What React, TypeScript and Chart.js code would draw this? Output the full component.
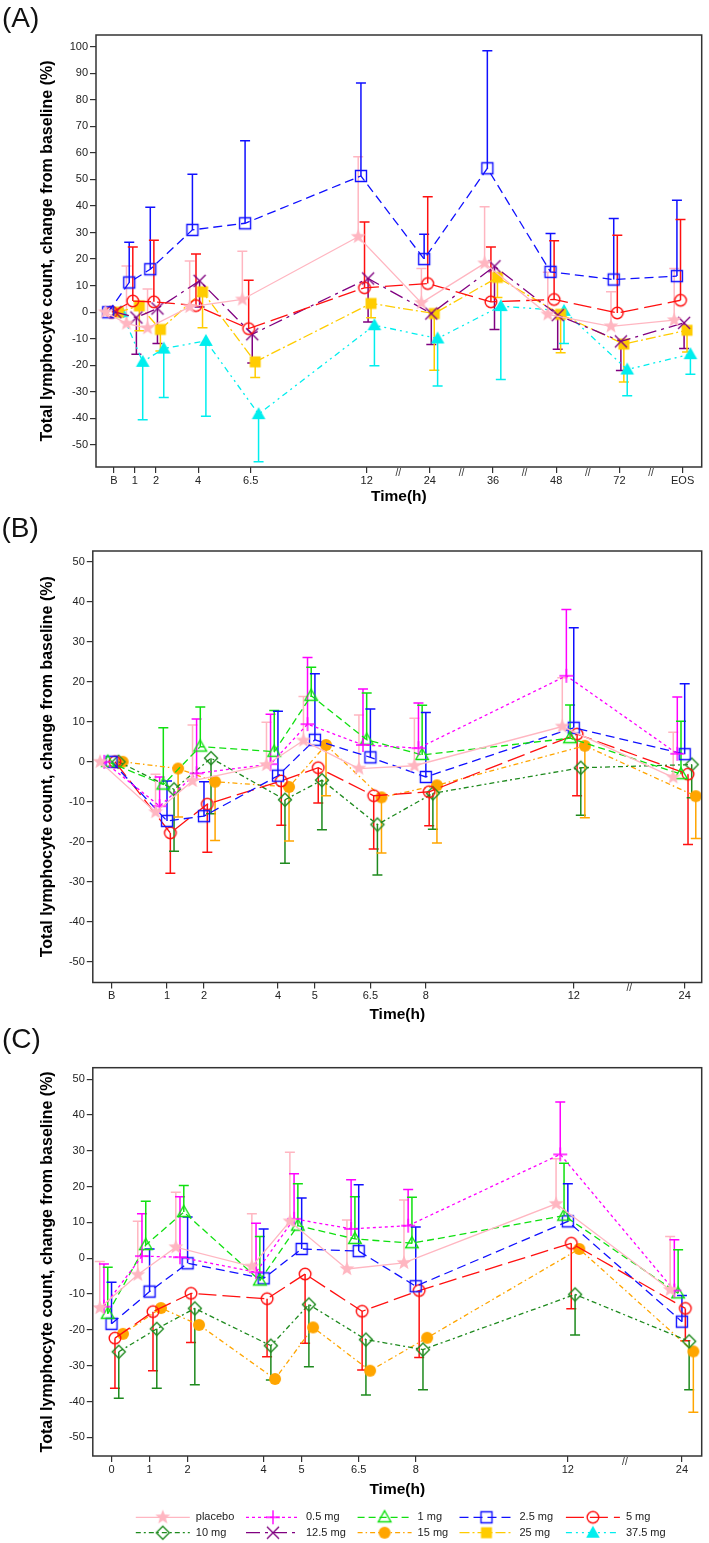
import React, { useEffect, useRef } from 'react';
import { Chart, registerables } from 'chart.js';

Chart.register(...registerables);

const FONT = "'Liberation Sans', Arial, Helvetica, sans-serif";

// ---------------- Panel A ----------------
const A_TIME_LABELS = ['B', '1', '2', '4', '6.5', '12', '24', '36', '48', '72', 'EOS'];
const A_TIME_POS = [0, 1, 2, 4, 6.5, 12, 15, 18, 21, 24, 27];
const A_BREAKS = [13.5, 16.5, 19.5, 22.5, 25.5];
const A_Y_TICKS = [-50, -40, -30, -20, -10, 0, 10, 20, 30, 40, 50, 60, 70, 80, 90, 100];

const A_PLACEBO = [0, -4.3, -6, 2, 4.8, 28.4, 3.5, 18.4, -0.8, -5.3, -3];
const A_PLACEBO_ERR = [null, 17.4, 8.7, 19.3, 23, 58.5, 16.5, 39.7, 15, 7.7, 16.5];
const A_2_5 = [0, 11.2, 16.2, 31, 33.5, 51.3, 20, 54.2, 15.2, 12.3, 13.6];
const A_2_5_ERR = [null, 26.3, 39.5, 52, 64.6, 86.3, 29.4, 98.5, 29.6, 35.3, 42.2];
const A_5 = [0, 4.2, 3.9, 2.5, -6.2, 9.2, 10.8, 3.9, 4.8, -0.3, 4.5];
const A_5_ERR = [null, 24.6, 27.1, 21.9, 12, 34, 43.5, 24.6, 26.9, 29, 34.9];
const A_12_5 = [0, -2, 1.4, 11.8, -8.3, 12.7, -0.5, 17.3, -1.1, -11, -4];
const A_12_5_ERR = [null, -15.8, -11.8, 2, -19.1, -3.7, -12.2, -6.5, -14, -22, -13.7];
const A_25 = [0, 2.4, -6.5, 7.7, -18.7, 3.3, -0.5, 13.1, -0.8, -12, -6.8];
const A_25_ERR = [null, -7, -14.6, -5.9, -24.6, -2.1, -21.9, 5.5, -15.3, -26.3, -15];
const A_37_5 = [0, -18.7, -13.7, -10.8, -38.4, -4.9, -9.9, 2.3, 0.5, -21.6, -15.8];
const A_37_5_ERR = [null, -40.5, -32.1, -39.2, -56.3, -20.2, -27.8, -25.3, -11.8, -31.5, -23.4];

// ---------------- Panel B ----------------
const B_TIME_LABELS = ['B', '1', '2', '4', '5', '6.5', '8', '12', '24'];
const B_TIME_POS = [-0.5, 1, 2, 4, 5, 6.5, 8, 12, 15];
const B_BREAKS = [13.5];
const BC_Y_TICKS = [-50, -40, -30, -20, -10, 0, 10, 20, 30, 40, 50];

const B_PLACEBO = [0, -12.6, -4.8, -0.8, 5.3, -1.7, -1.0, 8.8, -3.9];
const B_PLACEBO_ERR = [null, -3.1, 9.2, 9.9, 16.3, 11.7, 10.9, 21, 7.4];
const B_0_5 = [0, -11.1, -2.9, -0.6, 9.4, 4.2, 3.4, 21.5, 2.0];
const B_0_5_ERR = [null, -3.8, 10.7, 11.9, 26.1, 18.2, 14.7, 38.1, 16.2];
const B_1 = [0, -5.7, 3.8, 2.5, 16.5, 5.5, 1.7, 5.9, -3.1];
const B_1_ERR = [null, 8.5, 13.7, 12.8, 23.6, 17.2, 14.1, 14.2, 10.1];
const B_2_5 = [0, -14.8, -13.6, -3.5, 5.5, 1.1, -3.8, 8.5, 1.9];
const B_2_5_ERR = [null, -4.8, -5.0, 12.6, 22, 13.2, 12.3, 33.5, 19.5];
const B_5 = [0, -17.8, -10.6, -4.8, -1.5, -8.5, -7.5, 6.9, -3.1];
const B_5_ERR = [null, -27.9, -22.6, -15.9, -10.3, -21.8, -16, -8.5, -20.7];
const B_10 = [0, -6.9, 0.9, -9.5, -4.6, -15.7, -7.9, -1.5, -0.7];
const B_10_ERR = [null, -22.4, -13, -25.4, -17, -28.3, -16.9, -13.4, -9];
const B_15 = [0, -1.7, -5.0, -6.3, 4.2, -8.9, -5.9, 4.0, -8.6];
const B_15_ERR = [null, -13.8, -19.7, -19.8, -8.5, -22.8, -20.3, -14.0, -19.2];

// ---------------- Panel C ----------------
const C_TIME_LABELS = ['0', '1', '2', '4', '5', '6.5', '8', '12', '24'];
const C_TIME_POS = [0, 1, 2, 4, 5, 6.5, 8, 12, 15];
const C_BREAKS = [13.5];

const C_PLACEBO = [-13.9, -4.6, 3.1, -2.3, 10.3, -3.0, -1.3, 15.2, -8.8];
const C_PLACEBO_ERR = [-0.9, 10.3, 18.4, 12.4, 29.6, 10.7, 16.3, 27.8, 6.1];
const C_0_5 = [-13.5, 0.6, 0.3, -3.9, 11, 8.2, 9.1, 29.0, -9];
const C_0_5_ERR = [-1.6, 12.4, 17.2, 9.8, 23.6, 21.9, 19.2, 43.6, 5.2];
const C_1 = [-15.5, 3.7, 12.9, -6.2, 9.1, 5.4, 4.2, 11.9, -9.8];
const C_1_ERR = [-2.5, 15.9, 20.3, 6.1, 20.8, 17.2, 17, 26.5, 2.4];
const C_2_5 = [-18.3, -9.3, -1.4, -5.6, 2.6, 2.0, -7.8, 10.3, -17.7];
const C_2_5_ERR = [-6.7, 2.6, 11.5, 8.2, 16.8, 20.5, 8.7, 20.8, -10.4];
const C_5 = [-22.3, -14.9, -9.8, -11.3, -4.4, -14.8, -9.0, 4.2, -14.0];
const C_5_ERR = [-36.3, -31.4, -23.5, -27.5, -23.7, -31.2, -27.7, -14.1, -23];
const C_10 = [-26.1, -19.7, -14.0, -24.4, -12.9, -22.7, -25.5, -10.1, -23.2];
const C_10_ERR = [-39.1, -36.3, -35.3, -34, -30.3, -38.2, -36.7, -21.4, -36.7];
const C_15 = [-21.1, -13.9, -18.6, -33.7, -19.3, -31.4, -22.2, 2.6, -26.0];
const C_15_ERR = [null, null, null, null, null, null, null, null, -43];

// ---------------- Styles ----------------
const SERIES_STYLE: Record<string, { color: string; dash: number[]; marker: string }> = {
  placebo: { color: '#ffb6c1', dash: [], marker: 'star' },
  '0.5 mg': { color: '#ff00ff', dash: [3, 3], marker: 'plus' },
  '1 mg': { color: '#10e010', dash: [7, 4], marker: 'triOpen' },
  '2.5 mg': { color: '#1010ff', dash: [9, 5], marker: 'sqOpen' },
  '5 mg': { color: '#ff1010', dash: [18, 6], marker: 'circOpen' },
  '10 mg': { color: '#1e8a1e', dash: [5, 3, 2, 3], marker: 'diamond' },
  '12.5 mg': { color: '#800080', dash: [14, 5, 3, 5], marker: 'x' },
  '15 mg': { color: '#ffa500', dash: [5, 3, 1.5, 3], marker: 'circFill' },
  '25 mg': { color: '#ffcc00', dash: [10, 3, 2, 3], marker: 'sqFill' },
  '37.5 mg': { color: '#00eeee', dash: [6, 4, 2, 4, 2, 4], marker: 'triFill' },
};

const A_OFFSETS: Record<string, number> = {
  placebo: -0.4, '2.5 mg': -0.27, '5 mg': -0.1, '12.5 mg': 0.07, '25 mg': 0.21, '37.5 mg': 0.37,
};
const BC_OFFSETS: Record<string, number> = {
  placebo: -0.31, '0.5 mg': -0.2, '1 mg': -0.1, '2.5 mg': 0, '5 mg': 0.09, '10 mg': 0.19, '15 mg': 0.3,
};

const LEGEND_ROWS = [
  ['placebo', '0.5 mg', '1 mg', '2.5 mg', '5 mg'],
  ['10 mg', '12.5 mg', '15 mg', '25 mg', '37.5 mg'],
];
const LEGEND_COL_X = [135.8, 246, 357.6, 459.5, 565.9];

type Series = { name: string; values: number[]; err: (number | null)[] };

function makeMarker(kind: string, color: string): HTMLCanvasElement {
  const c = document.createElement('canvas');
  c.width = 20;
  c.height = 20;
  const g = c.getContext('2d')!;
  g.translate(10, 10);
  g.strokeStyle = color;
  g.fillStyle = color;
  g.lineWidth = 1.4;
  g.beginPath();
  switch (kind) {
    case 'star': {
      for (let k = 0; k < 10; k++) {
        const r = k % 2 === 0 ? 7.8 : 3.3;
        const a = -Math.PI / 2 + (k * Math.PI) / 5;
        const px = r * Math.cos(a);
        const py = r * Math.sin(a);
        if (k === 0) g.moveTo(px, py);
        else g.lineTo(px, py);
      }
      g.closePath();
      g.fill();
      break;
    }
    case 'plus':
      g.moveTo(-7, 0); g.lineTo(7, 0); g.moveTo(0, -7); g.lineTo(0, 7); g.stroke();
      break;
    case 'x':
      g.moveTo(-6, -6); g.lineTo(6, 6); g.moveTo(6, -6); g.lineTo(-6, 6); g.stroke();
      break;
    case 'triOpen':
      g.moveTo(0, -6.5); g.lineTo(6.3, 4.5); g.lineTo(-6.3, 4.5); g.closePath(); g.stroke();
      break;
    case 'triFill':
      g.moveTo(0, -7); g.lineTo(6.8, 5); g.lineTo(-6.8, 5); g.closePath(); g.fill();
      break;
    case 'sqOpen':
      g.rect(-5.5, -5.5, 11, 11); g.stroke();
      break;
    case 'sqFill':
      g.rect(-5.5, -5.5, 11, 11); g.fill();
      break;
    case 'circOpen':
      g.arc(0, 0, 5.8, 0, Math.PI * 2); g.stroke();
      break;
    case 'circFill':
      g.arc(0, 0, 6, 0, Math.PI * 2); g.fill();
      break;
    case 'diamond':
      g.moveTo(0, -6.5); g.lineTo(6.5, 0); g.lineTo(0, 6.5); g.lineTo(-6.5, 0); g.closePath(); g.stroke();
      break;
  }
  return c;
}

type PanelSpec = {
  key: string;
  tag: string;
  tagX: number;
  tagBaseline: number;
  labels: string[];
  pos: number[];
  breaks: number[];
  series: Series[];
  offsets: Record<string, number>;
  xMin: number;
  xMax: number;
  yMin: number;
  yMax: number;
  yTicks: number[];
  yWidth: number;
  xHeight: number;
  padTop: number;
  padBottom: number;
  titlePadBottom: number;
  legend: boolean;
};

function makeConfig(p: PanelSpec, markers: Record<string, HTMLCanvasElement>): any {
  const datasets = p.series.map((s) => {
    const st = SERIES_STYLE[s.name];
    return {
      label: s.name,
      data: s.values.map((v, i) => ({ x: p.pos[i] + p.offsets[s.name], y: v })),
      errEnd: s.err,
      borderColor: st.color,
      backgroundColor: st.color,
      borderWidth: 1.3,
      borderDash: st.dash,
      pointStyle: markers[s.name],
      pointRadius: 6,
      pointHoverRadius: 6,
      tension: 0,
      fill: false,
    };
  });

  const extras = {
    id: 'extras' + p.key,
    beforeDatasetsDraw(chart: any) {
      const { ctx, scales } = chart;
      const x = scales.x;
      const y = scales.y;
      ctx.save();
      chart.data.datasets.forEach((ds: any) => {
        const err = ds.errEnd;
        if (!err) return;
        ctx.strokeStyle = ds.borderColor;
        ctx.lineWidth = 1.5;
        ctx.setLineDash([]);
        ds.data.forEach((pt: any, j: number) => {
          const e = err[j];
          if (e === null || e === undefined) return;
          const px = x.getPixelForValue(pt.x);
          const py = y.getPixelForValue(pt.y);
          const pe = y.getPixelForValue(e);
          ctx.beginPath();
          ctx.moveTo(px, py);
          ctx.lineTo(px, pe);
          ctx.moveTo(px - 5, pe);
          ctx.lineTo(px + 5, pe);
          ctx.stroke();
        });
      });
      ctx.restore();
    },
    afterDraw(chart: any) {
      const { ctx, chartArea: ca, scales } = chart;
      const x = scales.x;
      ctx.save();
      ctx.setLineDash([]);
      ctx.strokeStyle = '#333';
      ctx.lineWidth = 1.5;
      ctx.strokeRect(ca.left, ca.top, ca.right - ca.left, ca.bottom - ca.top);

      ctx.fillStyle = '#333';
      ctx.font = `10px ${FONT}`;
      ctx.textAlign = 'center';
      ctx.textBaseline = 'middle';
      p.breaks.forEach((b) => ctx.fillText('//', x.getPixelForValue(b), ca.bottom + 6));

      ctx.fillStyle = '#111';
      ctx.font = `28px ${FONT}`;
      ctx.textAlign = 'left';
      ctx.textBaseline = 'alphabetic';
      ctx.fillText(p.tag, p.tagX, p.tagBaseline);

      if (p.legend) {
        const rowY = [chart.height - 25.7, chart.height - 10.3];
        LEGEND_ROWS.forEach((row, r) => {
          row.forEach((name, cI) => {
            const st = SERIES_STYLE[name];
            const x0 = LEGEND_COL_X[cI];
            const yy = rowY[r];
            ctx.strokeStyle = st.color;
            ctx.lineWidth = 1.3;
            ctx.setLineDash(st.dash);
            ctx.beginPath();
            ctx.moveTo(x0, yy);
            ctx.lineTo(x0 + 54, yy);
            ctx.stroke();
            ctx.setLineDash([]);
            const m = markers[name];
            ctx.drawImage(m, x0 + 27 - m.width / 2, yy - m.height / 2);
            ctx.fillStyle = '#222';
            ctx.font = `11px ${FONT}`;
            ctx.textAlign = 'left';
            ctx.textBaseline = 'middle';
            ctx.fillText(name, x0 + 60, yy);
          });
        });
      }
      ctx.restore();
    },
  };

  return {
    type: 'line',
    data: { datasets },
    options: {
      responsive: false,
      maintainAspectRatio: false,
      animation: false,
      devicePixelRatio: 1,
      events: [],
      layout: { padding: { left: 0, right: 2, top: p.padTop, bottom: p.padBottom } },
      plugins: { legend: { display: false }, tooltip: { enabled: false }, title: { display: false } },
      scales: {
        x: {
          type: 'linear',
          min: p.xMin,
          max: p.xMax,
          afterBuildTicks: (s: any) => {
            s.ticks = p.pos.map((v) => ({ value: v }));
          },
          afterFit: (s: any) => {
            s.height = p.xHeight;
          },
          ticks: {
            autoSkip: false,
            maxRotation: 0,
            minRotation: 0,
            padding: 1,
            color: '#222',
            font: { family: FONT, size: 11 },
            callback: (_v: any, i: number) => p.labels[i],
          },
          grid: { drawOnChartArea: false, drawTicks: true, tickLength: 6, color: '#333', lineWidth: 1.2 },
          border: { display: false },
          title: {
            display: true,
            text: 'Time(h)',
            color: '#000',
            font: { family: FONT, size: 15.5, weight: 'bold' },
            padding: { top: 0, bottom: p.titlePadBottom },
          },
        },
        y: {
          type: 'linear',
          min: p.yMin,
          max: p.yMax,
          afterBuildTicks: (s: any) => {
            s.ticks = p.yTicks.map((v) => ({ value: v }));
          },
          afterFit: (s: any) => {
            s.width = p.yWidth;
          },
          ticks: {
            padding: 2,
            color: '#222',
            font: { family: FONT, size: 11 },
            callback: (v: any) => String(v),
          },
          grid: { drawOnChartArea: false, drawTicks: true, tickLength: 6, color: '#333', lineWidth: 1.2 },
          border: { display: false },
          title: {
            display: true,
            text: 'Total lymphocyte count, change from baseline (%)',
            color: '#000',
            font: { family: FONT, size: 16, weight: 'bold' },
            padding: { top: 38.4, bottom: 0 },
          },
        },
      },
    },
    plugins: [extras],
  };
}

const PANEL_A: PanelSpec = {
  key: 'A', tag: '(A)', tagX: 2, tagBaseline: 26.7,
  labels: A_TIME_LABELS, pos: A_TIME_POS, breaks: A_BREAKS,
  series: [
    { name: 'placebo', values: A_PLACEBO, err: A_PLACEBO_ERR },
    { name: '2.5 mg', values: A_2_5, err: A_2_5_ERR },
    { name: '5 mg', values: A_5, err: A_5_ERR },
    { name: '12.5 mg', values: A_12_5, err: A_12_5_ERR },
    { name: '25 mg', values: A_25, err: A_25_ERR },
    { name: '37.5 mg', values: A_37_5, err: A_37_5_ERR },
  ],
  offsets: A_OFFSETS,
  xMin: -0.847, xMax: 27.906, yMin: -58.3, yMax: 104.4, yTicks: A_Y_TICKS,
  yWidth: 96, xHeight: 43, padTop: 35, padBottom: 0, titlePadBottom: 4.3, legend: false,
};

const PANEL_B: PanelSpec = {
  key: 'B', tag: '(B)', tagX: 1.5, tagBaseline: 31.7,
  labels: B_TIME_LABELS, pos: B_TIME_POS, breaks: B_BREAKS,
  series: [
    { name: 'placebo', values: B_PLACEBO, err: B_PLACEBO_ERR },
    { name: '0.5 mg', values: B_0_5, err: B_0_5_ERR },
    { name: '1 mg', values: B_1, err: B_1_ERR },
    { name: '2.5 mg', values: B_2_5, err: B_2_5_ERR },
    { name: '5 mg', values: B_5, err: B_5_ERR },
    { name: '10 mg', values: B_10, err: B_10_ERR },
    { name: '15 mg', values: B_15, err: B_15_ERR },
  ],
  offsets: BC_OFFSETS,
  xMin: -1.007, xMax: 15.46, yMin: -55.2, yMax: 52.7, yTicks: BC_Y_TICKS,
  yWidth: 92.8, xHeight: 42.5, padTop: 46, padBottom: 0, titlePadBottom: 1, legend: false,
};

const PANEL_C: PanelSpec = {
  key: 'C', tag: '(C)', tagX: 2, tagBaseline: 37.5,
  labels: C_TIME_LABELS, pos: C_TIME_POS, breaks: C_BREAKS,
  series: [
    { name: 'placebo', values: C_PLACEBO, err: C_PLACEBO_ERR },
    { name: '0.5 mg', values: C_0_5, err: C_0_5_ERR },
    { name: '1 mg', values: C_1, err: C_1_ERR },
    { name: '2.5 mg', values: C_2_5, err: C_2_5_ERR },
    { name: '5 mg', values: C_5, err: C_5_ERR },
    { name: '10 mg', values: C_10, err: C_10_ERR },
    { name: '15 mg', values: C_15, err: C_15_ERR },
  ],
  offsets: BC_OFFSETS,
  xMin: -0.493, xMax: 15.52, yMin: -55.2, yMax: 53.2, yTicks: BC_Y_TICKS,
  yWidth: 92.8, xHeight: 45, padTop: 57.7, padBottom: 42, titlePadBottom: 2, legend: true,
};

export default function App() {
  const refA = useRef<HTMLCanvasElement>(null);
  const refB = useRef<HTMLCanvasElement>(null);
  const refC = useRef<HTMLCanvasElement>(null);

  useEffect(() => {
    const markers: Record<string, HTMLCanvasElement> = {};
    Object.keys(SERIES_STYLE).forEach((k) => {
      markers[k] = makeMarker(SERIES_STYLE[k].marker, SERIES_STYLE[k].color);
    });
    const charts = [
      new Chart(refA.current!, makeConfig(PANEL_A, markers)),
      new Chart(refB.current!, makeConfig(PANEL_B, markers)),
      new Chart(refC.current!, makeConfig(PANEL_C, markers)),
    ];
    return () => charts.forEach((c) => c.destroy());
  }, []);

  const cs = (top: number, h: number): React.CSSProperties => ({
    position: 'absolute', left: 0, top, width: 709, height: h, display: 'block',
  });

  return (
    <div style={{ position: 'absolute', left: 0, top: 0, width: 709, height: 1543, background: '#fff', overflow: 'hidden' }}>
      <canvas ref={refA} width={709} height={510} style={cs(0, 510)} />
      <canvas ref={refB} width={709} height={520} style={cs(505, 520)} />
      <canvas ref={refC} width={709} height={533} style={cs(1010, 533)} />
    </div>
  );
}
